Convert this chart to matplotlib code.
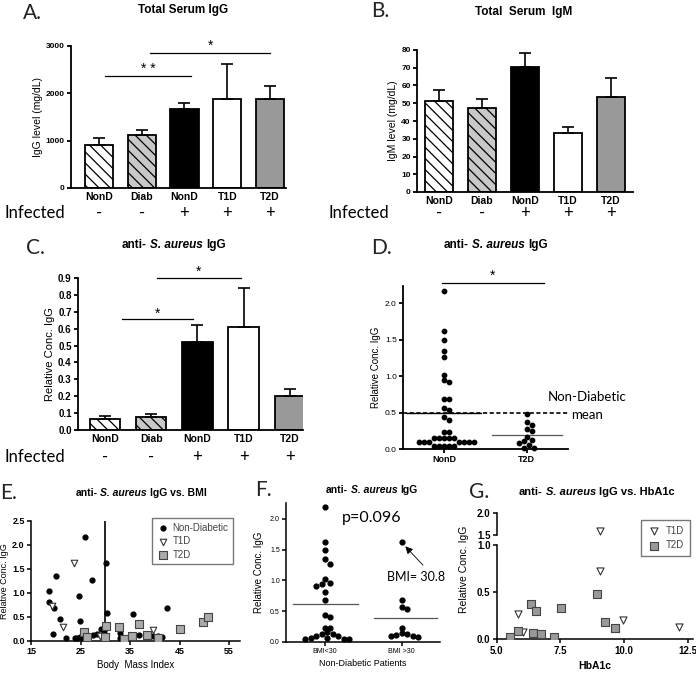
import numpy as np
import matplotlib
matplotlib.use("Agg")
import matplotlib.pyplot as plt
from matplotlib.transforms import blended_transform_factory

plt.rcParams['font.family'] = ['Liberation Sans', 'DejaVu Sans']
plt.rcParams['hatch.linewidth'] = 0.9

W, H, DPI = 696, 673, 100

# ---- data ----
bar_groups = ["NonD", "Diab", "NonD", "T1D", "T2D"]
infected = ["-", "-", "+", "+", "+"]

igg_total = [900, 1130, 1675, 1870, 1880]
igg_total_err = [150, 95, 112, 745, 270]

igm_total = [51.5, 47.2, 70.6, 33.5, 53.6]
igm_total_err = [5.8, 5.4, 7.5, 3.4, 10.7]

anti_igg = [0.065, 0.075, 0.52, 0.607, 0.204]
anti_igg_err = [0.017, 0.022, 0.099, 0.233, 0.039]

d_groups = ["NonD", "T2D"]
d_nond = [2.17, 1.62, 1.50, 1.34, 1.26, 1.02, 0.94, 0.92, 0.68, 0.68, 0.56, 0.53,
          0.44, 0.40, 0.23, 0.23, 0.15, 0.15, 0.15, 0.15, 0.15,
          0.10, 0.10, 0.10, 0.10, 0.10, 0.10, 0.10,
          0.045, 0.045, 0.045, 0.045, 0.045]
d_t2d = [0.48, 0.37, 0.33, 0.28, 0.24, 0.17, 0.12, 0.11, 0.08, 0.06, 0.02, 0.01]

bmi_nond = [18.7, 18.6, 19.6, 20.0, 19.4, 20.9, 22.1, 26.0, 24.6, 24.9, 27.3, 30.1,
            30.4, 29.1, 29.7, 23.8, 24.3, 24.9, 25.4, 26.1, 26.8, 27.6, 28.3,
            33.0, 33.0, 35.5, 36.9, 39.6, 40.7, 41.5, 42.5]
igg_nond = [1.03, 0.81, 0.68, 1.35, 0.13, 0.45, 0.06, 2.17, 0.94, 0.42, 1.27, 1.62,
            0.57, 0.24, 0.20, 0.05, 0.06, 0.07, 0.05, 0.09, 0.10, 0.12, 0.13,
            0.17, 0.06, 0.55, 0.12, 0.10, 0.10, 0.08, 0.69]
bmi_t1d = [23.7, 19.3, 21.5, 28.9, 30.2, 39.7]
igg_t1d = [1.61, 0.73, 0.29, 0.10, 0.07, 0.22]
bmi_t2d = [25.7, 26.4, 30.2, 30.0, 32.8, 33.8, 36.8, 35.3, 38.5, 40.6, 45.1, 49.7, 50.8]
igg_t2d = [0.19, 0.08, 0.31, 0.08, 0.29, 0.03, 0.34, 0.10, 0.12, 0.05, 0.24, 0.38, 0.49]

f_groups = ["BMI<30", "BMI >30"]
f_low = [2.19, 1.62, 1.50, 1.34, 1.27, 1.02, 0.95, 0.94, 0.91, 0.81, 0.68, 0.43, 0.40,
         0.23, 0.23, 0.15, 0.12, 0.10, 0.10, 0.12, 0.055, 0.05, 0.05, 0.05, 0.055]
f_high = [1.62, 0.68, 0.54, 0.56, 0.23, 0.13, 0.09, 0.08, 0.09, 0.11, 0.14]

hba1c_t1d = [9.07, 9.06, 5.84, 6.04, 9.95, 12.17]
g_igg_t1d = [1.60, 0.72, 0.27, 0.08, 0.20, 0.13]
hba1c_t2d = [5.51, 5.83, 6.33, 6.53, 6.42, 6.73, 7.25, 7.53, 8.94, 9.26, 9.65]
g_igg_t2d = [0.02, 0.09, 0.37, 0.30, 0.07, 0.06, 0.02, 0.33, 0.48, 0.18, 0.12]

# ---- helpers ----
fig = plt.figure(figsize=(W / DPI, H / DPI), dpi=DPI)
renderer = fig.canvas.get_renderer()


def add_ax(x0, y0, x1, y1):
    return fig.add_axes([x0 / W, 1 - y1 / H, (x1 - x0) / W, (y1 - y0) / H])


def ftext(x, y, s, **kw):
    return fig.text(x / W, 1 - y / H, s, **kw)


def letter(x, y, s):
    ftext(x, y, s, fontsize=15, family='Lato', color='#222222', va='center')


def style(ax, lw=1.3, size=6.5, bold=True):
    for s in ['top', 'right']:
        ax.spines[s].set_visible(False)
    for s in ['left', 'bottom']:
        ax.spines[s].set_linewidth(lw)
    ax.tick_params(width=lw, length=3, labelsize=size, pad=1.5)
    if bold:
        plt.setp(ax.get_xticklabels() + ax.get_yticklabels(), fontweight='bold')


def rich_title(xc, y, parts, size=8.5):
    # parts: (text, fontstyle); joined with a space
    texts = [ftext(0, y, s, fontsize=size, fontweight='bold', fontstyle=st, va='center')
             for s, st in parts]
    widths = [t.get_window_extent(renderer).width for t in texts]
    gap = size * DPI / 72 * 0.28
    x = xc - (sum(widths) + gap * (len(texts) - 1)) / 2
    for t, w in zip(texts, widths):
        t.set_x(x / W)
        x += w + gap


def swarm(ax, vals, center, diam_px):
    # simple beeswarm: try centre, then alternate sides until no dot overlaps
    x0, x1 = ax.get_xlim()
    y0, y1 = ax.get_ylim()
    sx = ax.bbox.width / (x1 - x0)
    sy = ax.bbox.height / (y1 - y0)
    vals = np.asarray(vals)
    out = np.zeros(len(vals))
    placed = []
    cands = [0] + [s * j for j in range(1, 60) for s in (1, -1)]
    for i in np.argsort(vals)[::-1]:
        v = vals[i]
        for c in cands:
            xp = c * diam_px / 2
            if all(np.hypot(xp - px, (v - pv) * sy) >= diam_px for px, pv in placed):
                break
        placed.append((xp, v))
        out[i] = center + xp / sx
    return out


def sig(ax, x0, x1, y, label, ty):
    ax.plot([x0, x1], [y, y], color='black', lw=0.9, clip_on=False)
    ax.text((x0 + x1) / 2, ty, label, ha='center', va='center', fontsize=10)


bar_colors = ['white', '#c8c8c8', 'black', 'white', '#999999']
bar_hatches = ['\\\\\\', '\\\\\\', '', '', '']


def bar_panel(rect, vals, errs, ylim, yticks, ylabel, labsize=7.5, ysize=6):
    ax = add_ax(*rect)
    x = np.arange(len(vals))
    for i in x:
        ax.bar(i, vals[i], width=0.66, color=bar_colors[i], hatch=bar_hatches[i],
               edgecolor='black', linewidth=1.3, zorder=2)
    ax.errorbar(x, vals, yerr=[np.zeros(len(vals)), errs], fmt='none', ecolor='black',
                elinewidth=1.2, capsize=4, capthick=1.2, zorder=3)
    ax.set_ylim(*ylim)
    ax.set_yticks(yticks)
    ax.set_xticks(x, bar_groups)
    ax.set_ylabel(ylabel, fontsize=labsize, labelpad=2)
    style(ax, size=ysize)
    ax.tick_params(axis='x', length=0, pad=3, labelsize=7.5)
    return ax


def infected_row(ax, ylab, xlab):
    tr = blended_transform_factory(ax.transData, fig.transFigure)
    ftext(xlab, ylab, "Infected", fontsize=12, family='Lato', va='center')
    for i, s in enumerate(infected):
        ax.text(i, 1 - ylab / H, s, transform=tr, ha='center', va='center',
                fontsize=12, family='Lato')


# ---- A ----
axA = bar_panel((71, 46, 286, 188), igg_total, igg_total_err, (0, 3000),
                [0, 1000, 2000, 3000], "IgG level (mg/dL)")
axA.set_xlim(-0.65, 4.37)
sig(axA, 0.15, 2.15, 2362, "* *", 2520)
sig(axA, 1.2, 4.0, 2860, "*", 3000)
infected_row(axA, 213, 4)
letter(23, 13, "A.")
ftext(183, 10, "Total Serum IgG", fontsize=8.5, fontweight='bold', ha='center', va='center')

# ---- B ----
axB = bar_panel((417, 50, 633, 192), igm_total, igm_total_err, (0, 80),
                np.arange(0, 81, 10), "IgM level (mg/dL)")
axB.set_xlim(-0.51, 4.51)
infected_row(axB, 213, 328)
letter(371, 11, "B.")
ftext(524, 12, "Total  Serum  IgM", fontsize=8.5, fontweight='bold', ha='center', va='center')

# ---- C ----
axC = bar_panel((78, 278, 303, 430), anti_igg, anti_igg_err, (0, 0.9),
                np.round(np.arange(0, 0.91, 0.1), 1), "Relative Conc. IgG", labsize=8, ysize=7)
axC.set_xlim(-0.58, 4.28)
axC.yaxis.set_major_formatter('{x:.1f}')
plt.setp(axC.get_yticklabels(), fontweight='bold')
sig(axC, 0.36, 1.9, 0.655, "*", 0.69)
sig(axC, 1.12, 2.93, 0.90, "*", 0.935)
infected_row(axC, 457, 4)
letter(26, 248, "C.")
rich_title(174, 245, [("anti-", 'normal'), ("S. aureus", 'italic'), ("IgG", 'normal')])

# ---- D ----
axD = add_ax(403, 285.5, 568, 449)
axD.set_xlim(0, 4)
axD.set_ylim(0, 2.24)
xd1 = swarm(axD, d_nond, 1, 5)
xd2 = swarm(axD, d_t2d, 3, 5)
axD.scatter(xd1, d_nond, s=10, color='black', zorder=3, clip_on=False)
axD.scatter(xd2, d_t2d, s=10, color='black', zorder=3, clip_on=False)
m1, m2 = np.mean(d_nond), np.mean(d_t2d)
axD.plot([0.1, 1.9], [m1, m1], color='black', lw=1.0)
axD.plot([0, 4], [m1, m1], color='black', lw=1.2, ls=(0, (2.5, 1.5)))
axD.plot([2.15, 3.85], [m2, m2], color='#555555', lw=0.9)
axD.set_xticks([1, 3], d_groups)
axD.set_yticks([0, 0.5, 1.0, 1.5, 2.0])
axD.yaxis.set_major_formatter('{x:.1f}')
axD.set_ylabel("Relative Conc. IgG", fontsize=7, labelpad=3)
style(axD, size=6, bold=False)
plt.setp(axD.get_xticklabels(), fontweight='bold', fontsize=6.5)
sig(axD, 0.94, 3.42, 2.27, "*", 2.37)
ftext(587, 397, "Non-Diabetic", fontsize=9.5, family='Lato', ha='center', va='center')
ftext(587, 415, "mean", fontsize=9.5, family='Lato', ha='center', va='center')
letter(371, 248, "D.")
rich_title(496, 245, [("anti-", 'normal'), ("S. aureus", 'italic'), ("IgG", 'normal')])

# ---- E ----
axE = add_ax(31, 520.7, 240, 640.7)
axE.set_xlim(15, 57.2)
axE.set_ylim(0, 2.5)
axE.axvline(30, color='black', lw=1.2, zorder=1)
axE.scatter(bmi_nond, igg_nond, s=12, color='black', label="Non-Diabetic", zorder=3)
axE.scatter(bmi_t1d, igg_t1d, s=22, marker='v', facecolor='white', edgecolor='#333333',
            lw=0.8, label="T1D", zorder=3)
axE.scatter(bmi_t2d, igg_t2d, s=30, marker='s', facecolor='#aaaaaa', edgecolor='#444444',
            lw=0.8, label="T2D", zorder=3)
axE.set_xticks([15, 25, 35, 45, 55])
axE.set_yticks([0, 0.5, 1.0, 1.5, 2.0, 2.5])
axE.yaxis.set_major_formatter('{x:.1f}')
axE.set_xlabel("Body  Mass Index", fontsize=7, labelpad=3)
axE.set_ylabel("Relative Conc. IgG", fontsize=6.5, labelpad=2)
style(axE, lw=1.1, size=6.5)
leg = axE.legend(loc='upper right', bbox_to_anchor=(238 / W, 1 - 513 / H),
                 bbox_transform=fig.transFigure, fontsize=7, frameon=True, fancybox=False,
                 edgecolor='#555555', handletextpad=0.4, borderpad=0.5, labelspacing=0.35,
                 handlelength=1.2)
leg.get_frame().set_linewidth(1.0)
plt.setp(leg.get_texts(), color='#444444')
letter(0, 493, "E.")
rich_title(141, 493, [("anti-", 'normal'), ("S. aureus", 'italic'), ("IgG vs. BMI", 'normal')],
           size=7.5)

# ---- F ----
axF = add_ax(286, 503, 440, 641.7)
axF.set_xlim(0, 4)
axF.set_ylim(0, 2.26)
xf1 = swarm(axF, f_low, 1, 5.5)
xf2 = swarm(axF, f_high, 3, 5.5)
axF.scatter(xf1, f_low, s=12, color='black', zorder=3, clip_on=False)
axF.scatter(xf2, f_high, s=12, color='black', zorder=3, clip_on=False)
axF.plot([0.17, 1.88], [np.mean(f_low)] * 2, color='#555555', lw=0.9)
axF.plot([2.29, 3.93], [np.mean(f_high)] * 2, color='#555555', lw=0.9)
axF.set_xticks([1, 3], f_groups)
axF.set_yticks([0, 0.5, 1.0, 1.5, 2.0])
axF.yaxis.set_major_formatter('{x:.1f}')
axF.set_xlabel("Non-Diabetic Patients", fontsize=6.5, labelpad=3)
axF.set_ylabel("Relative Conc. IgG", fontsize=7, labelpad=4)
style(axF, lw=1.1, size=5, bold=False)
top = int(np.argmax(f_high))
axF.annotate("", xy=(xf2[top], f_high[top]), xytext=(15.5, -16.5), textcoords='offset points',
             arrowprops=dict(arrowstyle='-|>', color='black', lw=0.6, mutation_scale=11,
                             shrinkA=0, shrinkB=4))
ftext(416, 577, "BMI= 30.8", fontsize=9, family='Lato', ha='center', va='center')
ftext(372, 518, "p=0.096", fontsize=11.5, family='Lato', ha='center', va='center')
letter(255, 490, "F.")
rich_title(372, 490, [("anti-", 'normal'), ("S. aureus", 'italic'), ("IgG", 'normal')],
           size=7.5)

# ---- G (broken y axis) ----
axGt = add_ax(496.7, 513.3, 693, 535)
axG = add_ax(496.7, 545, 693, 639.3)
for a in (axGt, axG):
    a.set_xlim(5.0, 12.7)
    a.scatter(hba1c_t1d, g_igg_t1d, s=26, marker='v', facecolor='white', edgecolor='#333333',
              lw=0.8, label="T1D", zorder=3)
    a.scatter(hba1c_t2d, g_igg_t2d, s=40, marker='s', facecolor='#999999',
              edgecolor='#444444', lw=0.8, label="T2D", zorder=3)
axGt.set_ylim(1.5, 2.0)
axGt.set_yticks([1.5, 2.0])
axG.set_ylim(0, 1.0)
axG.set_yticks([0, 0.5, 1.0])
for a in (axGt, axG):
    a.yaxis.set_major_formatter('{x:.1f}')
axG.set_xticks([5.0, 7.5, 10.0, 12.5])
axG.xaxis.set_major_formatter('{x:.1f}')
style(axG, lw=1.1, size=7)
style(axGt, lw=1.1, size=7)
axGt.spines['bottom'].set_visible(False)
axGt.tick_params(axis='x', bottom=False, labelbottom=False)
axG.set_xlabel("HbA1c", fontsize=7.5, fontweight='bold', labelpad=4)
ftext(464, 569, "Relative Conc. IgG", fontsize=7.5, rotation=90, ha='center', va='center')
legG = axG.legend(loc='upper right', bbox_to_anchor=(695 / W, 1 - 515 / H),
                  bbox_transform=fig.transFigure, fontsize=7, frameon=True, fancybox=False,
                  edgecolor='#555555', handletextpad=0.5, borderpad=0.6, labelspacing=0.45,
                  handlelength=1.5)
legG.get_frame().set_linewidth(1.0)
plt.setp(legG.get_texts(), color='#444444')
letter(469, 492, "G.")
rich_title(597, 492, [("anti-", 'normal'), ("S. aureus", 'italic'), ("IgG vs. HbA1c", 'normal')],
           size=8)

fig.savefig("out.png", dpi=DPI)
